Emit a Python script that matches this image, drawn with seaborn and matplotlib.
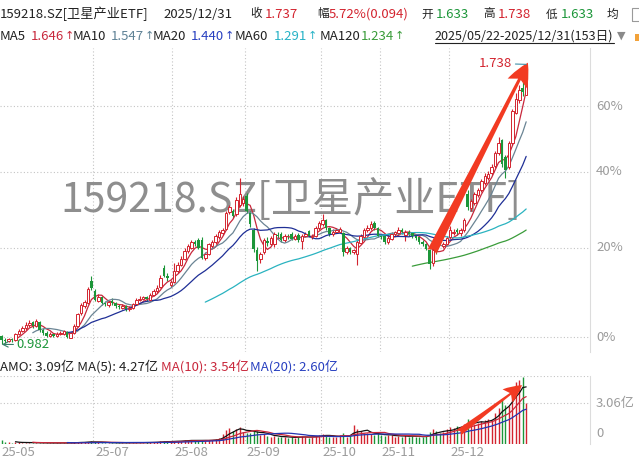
import matplotlib
matplotlib.use("Agg")
import numpy as np
import pandas as pd
import matplotlib.pyplot as plt
import matplotlib.transforms as mtransforms
from matplotlib.patches import Rectangle
from matplotlib.lines import Line2D
import seaborn as sns

# --- 数据: 2025/05/22-2025/12/31, 153个交易日 ---
opens = [
    1.000, 0.991, 0.988, 0.993, 0.990, 1.004, 1.010, 1.016, 1.022, 1.027,
    1.020, 1.028, 1.012, 1.006, 1.000, 1.004, 1.000, 1.004, 1.003, 1.008,
    0.996, 1.006, 1.020, 1.046, 1.062, 1.068, 1.118, 1.096, 1.074, 1.082,
    1.068, 1.064, 1.074, 1.068, 1.062, 1.058, 1.062, 1.055, 1.057, 1.066,
    1.075, 1.078, 1.081, 1.076, 1.086, 1.094, 1.103, 1.148, 1.130, 1.108,
    1.116, 1.140, 1.155, 1.170, 1.188, 1.196, 1.210, 1.214, 1.215, 1.172,
    1.182, 1.200, 1.210, 1.222, 1.232, 1.242, 1.286, 1.290, 1.280, 1.305,
    1.310, 1.330, 1.285, 1.240, 1.190, 1.168, 1.185, 1.212, 1.206, 1.204,
    1.228, 1.230, 1.214, 1.226, 1.230, 1.218, 1.228, 1.212, 1.226, 1.238,
    1.222, 1.226, 1.244, 1.255, 1.265, 1.245, 1.230, 1.236, 1.236, 1.232,
    1.186, 1.196, 1.186, 1.180, 1.208, 1.222, 1.240, 1.244, 1.258, 1.244,
    1.226, 1.224, 1.210, 1.218, 1.230, 1.232, 1.240, 1.228, 1.236, 1.232,
    1.224, 1.222, 1.210, 1.206, 1.190, 1.160, 1.190, 1.222, 1.200, 1.206,
    1.222, 1.232, 1.240, 1.232, 1.240, 1.335, 1.296, 1.310, 1.332, 1.345,
    1.365, 1.380, 1.392, 1.412, 1.452, 1.490, 1.440, 1.410, 1.480, 1.575,
    1.615, 1.655, 1.633,
]
highs = [
    1.002, 0.995, 0.996, 0.996, 1.006, 1.014, 1.020, 1.028, 1.032, 1.030,
    1.034, 1.030, 1.015, 1.009, 1.007, 1.006, 1.008, 1.009, 1.012, 1.010,
    1.008, 1.024, 1.048, 1.068, 1.076, 1.104, 1.128, 1.100, 1.088, 1.085,
    1.072, 1.074, 1.080, 1.071, 1.066, 1.067, 1.064, 1.062, 1.069, 1.079,
    1.083, 1.085, 1.084, 1.090, 1.099, 1.108, 1.131, 1.155, 1.136, 1.120,
    1.160, 1.162, 1.176, 1.195, 1.205, 1.216, 1.214, 1.220, 1.222, 1.186,
    1.208, 1.216, 1.230, 1.240, 1.246, 1.290, 1.305, 1.295, 1.325, 1.380,
    1.330, 1.336, 1.290, 1.245, 1.198, 1.186, 1.220, 1.222, 1.226, 1.236,
    1.234, 1.236, 1.230, 1.230, 1.234, 1.230, 1.232, 1.230, 1.236, 1.240,
    1.230, 1.250, 1.264, 1.282, 1.268, 1.248, 1.242, 1.246, 1.248, 1.236,
    1.200, 1.198, 1.194, 1.214, 1.230, 1.246, 1.252, 1.262, 1.262, 1.248,
    1.230, 1.228, 1.224, 1.234, 1.238, 1.248, 1.244, 1.240, 1.240, 1.236,
    1.228, 1.226, 1.214, 1.208, 1.194, 1.196, 1.198, 1.226, 1.210, 1.226,
    1.250, 1.242, 1.244, 1.246, 1.270, 1.345, 1.322, 1.340, 1.352, 1.376,
    1.392, 1.398, 1.420, 1.456, 1.500, 1.494, 1.446, 1.486, 1.588, 1.640,
    1.668, 1.680, 1.738,
]
lows = [
    0.982, 0.985, 0.986, 0.987, 0.989, 1.002, 1.008, 1.012, 1.018, 1.016,
    1.018, 1.008, 1.002, 0.998, 0.997, 0.997, 0.998, 1.001, 1.001, 0.994,
    0.995, 1.004, 1.018, 1.042, 1.058, 1.066, 1.098, 1.072, 1.070, 1.064,
    1.062, 1.060, 1.064, 1.058, 1.056, 1.056, 1.052, 1.052, 1.055, 1.064,
    1.072, 1.075, 1.074, 1.074, 1.083, 1.091, 1.101, 1.126, 1.118, 1.104,
    1.112, 1.136, 1.152, 1.166, 1.184, 1.192, 1.200, 1.192, 1.168, 1.166,
    1.178, 1.196, 1.206, 1.218, 1.228, 1.240, 1.280, 1.270, 1.276, 1.300,
    1.302, 1.285, 1.248, 1.186, 1.140, 1.160, 1.182, 1.200, 1.202, 1.198,
    1.218, 1.210, 1.210, 1.218, 1.214, 1.214, 1.210, 1.192, 1.222, 1.222,
    1.218, 1.222, 1.240, 1.250, 1.240, 1.226, 1.226, 1.232, 1.232, 1.176,
    1.180, 1.180, 1.182, 1.155, 1.204, 1.218, 1.236, 1.240, 1.240, 1.222,
    1.218, 1.206, 1.206, 1.214, 1.226, 1.228, 1.230, 1.212, 1.226, 1.220,
    1.216, 1.206, 1.200, 1.190, 1.146, 1.152, 1.180, 1.204, 1.196, 1.202,
    1.218, 1.228, 1.228, 1.226, 1.236, 1.292, 1.290, 1.306, 1.326, 1.340,
    1.360, 1.372, 1.386, 1.408, 1.446, 1.410, 1.378, 1.404, 1.476, 1.570,
    1.605, 1.630, 1.633,
]
closes = [
    0.990, 0.988, 0.992, 0.990, 1.004, 1.010, 1.015, 1.022, 1.026, 1.020,
    1.030, 1.012, 1.006, 1.000, 1.003, 1.000, 1.004, 1.005, 1.009, 0.998,
    1.006, 1.020, 1.045, 1.064, 1.070, 1.100, 1.102, 1.076, 1.082, 1.068,
    1.066, 1.070, 1.068, 1.062, 1.060, 1.063, 1.055, 1.058, 1.066, 1.075,
    1.078, 1.081, 1.077, 1.086, 1.095, 1.102, 1.125, 1.130, 1.124, 1.116,
    1.140, 1.155, 1.170, 1.188, 1.200, 1.210, 1.205, 1.196, 1.172, 1.180,
    1.204, 1.210, 1.224, 1.234, 1.240, 1.285, 1.300, 1.276, 1.318, 1.335,
    1.322, 1.290, 1.255, 1.192, 1.165, 1.180, 1.214, 1.208, 1.220, 1.230,
    1.224, 1.214, 1.226, 1.224, 1.218, 1.225, 1.214, 1.226, 1.230, 1.226,
    1.226, 1.245, 1.258, 1.265, 1.245, 1.230, 1.236, 1.240, 1.242, 1.186,
    1.195, 1.185, 1.190, 1.210, 1.225, 1.240, 1.246, 1.255, 1.244, 1.226,
    1.222, 1.210, 1.220, 1.230, 1.234, 1.240, 1.234, 1.236, 1.230, 1.224,
    1.220, 1.210, 1.205, 1.194, 1.156, 1.190, 1.186, 1.208, 1.205, 1.220,
    1.240, 1.236, 1.234, 1.240, 1.265, 1.300, 1.315, 1.335, 1.345, 1.370,
    1.385, 1.390, 1.410, 1.450, 1.480, 1.420, 1.400, 1.480, 1.580, 1.620,
    1.650, 1.643, 1.737,
]
# 成交额(亿)
amounts = [
    0.30, 0.18, 0.12, 0.10, 0.15, 0.12, 0.10, 0.09, 0.10, 0.08,
    0.09, 0.10, 0.08, 0.07, 0.08, 0.07, 0.08, 0.07, 0.08, 0.09,
    0.08, 0.12, 0.15, 0.14, 0.12, 0.18, 0.20, 0.15, 0.12, 0.10,
    0.09, 0.10, 0.09, 0.08, 0.08, 0.09, 0.08, 0.09, 0.10, 0.11,
    0.10, 0.10, 0.12, 0.12, 0.15, 0.14, 0.20, 0.22, 0.18, 0.16,
    0.22, 0.24, 0.25, 0.28, 0.26, 0.30, 0.25, 0.24, 0.30, 0.26,
    0.28, 0.30, 0.34, 0.45, 0.75, 1.05, 1.20, 0.95, 1.15, 1.30,
    0.90, 0.80, 0.85, 0.95, 1.00, 0.70, 0.75, 0.60, 0.55, 0.60,
    0.55, 0.50, 0.55, 0.45, 0.50, 0.48, 0.55, 0.60, 0.50, 0.45,
    0.55, 0.60, 0.70, 0.75, 0.60, 0.55, 0.50, 0.55, 0.65, 0.80,
    0.55, 0.60, 1.45, 1.10, 0.95, 0.85, 0.80, 0.75, 0.70, 0.80,
    0.65, 0.60, 0.70, 0.65, 0.55, 0.60, 0.50, 0.70, 0.55, 0.60,
    0.55, 0.50, 0.55, 0.60, 0.90, 1.10, 0.95, 0.85, 0.90, 1.10,
    1.25, 1.20, 1.35, 1.30, 1.50, 1.90, 1.60, 1.50, 1.60, 1.70,
    1.80, 1.90, 1.80, 2.30, 2.70, 3.30, 2.90, 2.85, 3.90, 4.60,
    4.76, 5.00, 3.09,
]

month_labels = ["25-05", "25-07", "25-08", "25-09", "25-10", "25-11", "25-12"]
month_first_day = [0, 27, 50, 71, 93, 110, 130]
pct_levels = [0, 20, 40, 60]
base_price = 0.997      # 0% 对应的价格
amo_grid = 3.06

# --- 样式 ---
W, H = 639, 466
RED = "#d3242f"
GREEN = "#1c9639"
TXT = "#222222"
GRAY = "#9c9c9c"
GRID = "#c4c4c4"
ARROW_RED = "#f23a22"

sns.set_theme(style="white")
plt.rcParams["font.family"] = ["Noto Sans CJK SC", "DejaVu Sans"]
plt.rcParams["axes.unicode_minus"] = False


def fx(px):
    return px / W


def fy(py):
    return 1 - py / H


df = pd.DataFrame({"day": np.arange(len(closes)), "open": opens, "high": highs,
                   "low": lows, "close": closes, "amo": amounts})
up = (df["close"] >= df["open"]).values

fig = plt.figure(figsize=(W / 100, H / 100), dpi=100)
ax = fig.add_axes([0, fy(352), fx(590), (352 - 48) / H])
axv = fig.add_axes([0, fy(444), fx(590), (444 - 376) / H])

# --- K线 ---
ax.set_yscale("log")
ax.vlines(df["day"], df["low"], df["high"], colors=np.where(up, RED, GREEN), lw=0.8, zorder=2)
body_bot = np.minimum(df["open"], df["close"])
body_h = np.maximum((df["close"] - df["open"]).abs(), 0.0015)
ax.bar(df["day"][up], body_h[up], bottom=body_bot[up], width=0.72,
       facecolor="white", edgecolor=RED, lw=0.7, zorder=3)
ax.bar(df["day"][~up], body_h[~up], bottom=body_bot[~up], width=0.72,
       color=GREEN, lw=0, zorder=3)

ma_specs = [(5, "#c8283c"), (10, "#6a8494"), (20, "#1f2f96"), (60, "#2ab3c0"), (120, "#3a9c3a")]
for n, c in ma_specs:
    df[f"ma{n}"] = df["close"].rolling(n).mean()
    sns.lineplot(data=df, x="day", y=f"ma{n}", ax=ax, color=c, lw=0.9, zorder=2.5)

# --- 成交额 ---
axv.vlines(df["day"], 0, df["amo"], colors=np.where(up, RED, GREEN), lw=1.0, zorder=2)
for n, c in [(5, "#111111"), (10, "#c8283c"), (20, "#2433b0")]:
    df[f"amo_ma{n}"] = df["amo"].rolling(n).mean()
    sns.lineplot(data=df, x="day", y=f"amo_ma{n}", ax=axv, color=c, lw=0.9, zorder=3)

for a in (ax, axv):
    a.set_xlim(-0.49, 170.5)
    a.set_xlabel("")
    a.set_ylabel("")
    a.set_xticks([])
    a.set_yticks([])
    a.minorticks_off()
    for s in ("top", "left", "bottom"):
        a.spines[s].set_visible(False)
    a.spines["right"].set_color("#dcdcdc")
    a.spines["right"].set_linewidth(0.8)
    for d in month_first_day[1:]:
        a.axvline(d - 0.5, color=GRID, lw=0.8, ls=(0, (1, 2)), zorder=0.5)
ax.set_ylim(0.967, 1.797)
axv.set_ylim(0, 5.085)
ax.yaxis.set_minor_locator(matplotlib.ticker.NullLocator())

# 右侧刻度
tr = mtransforms.blended_transform_factory(ax.transAxes, ax.transData)
for p in pct_levels:
    lvl = base_price * (1 + p / 100)
    ax.axhline(lvl, color=GRID, lw=0.8, ls=(0, (1, 2)), zorder=0.5)
    ax.text(596 / 590, lvl, f"{p}%", transform=tr, ha="left", va="center",
            color=GRAY, fontsize=9.5)

trv = mtransforms.blended_transform_factory(axv.transAxes, axv.transData)
axv.axhline(amo_grid, color=GRID, lw=0.8, ls=(0, (1, 2)), zorder=0.5)
axv.axhline(5.085, color=GRID, lw=0.8, ls=(0, (1, 2)), zorder=0.5)
axv.text(596 / 590, amo_grid, f"{amo_grid:.2f}亿", transform=trv, ha="left", va="center",
         color=GRAY, fontsize=9.5)
axv.text(596 / 590, 0.82, "0", transform=trv, ha="left", va="center", color=GRAY, fontsize=9.5)

# 月份标签
trx = mtransforms.blended_transform_factory(axv.transData, axv.transAxes)
for lab, d in zip(month_labels, month_first_day):
    axv.text(d - 0.5 + 0.58, -8 / 68, lab, transform=trx, ha="left", va="center",
             color=GRAY, fontsize=9.5)

# 水印
ax.text(fx(291), fy(200), "159218.SZ[卫星产业ETF]", transform=fig.transFigure,
        ha="center", va="center", fontsize=29.6, color="#8e8e8e", zorder=1)

# 最高/最低标注
ax.annotate("1.738", xy=(152, 1.738), xytext=(-14, 1), textcoords="offset pixels",
            ha="right", va="center", color=RED, fontsize=9.5, zorder=7,
            arrowprops=dict(arrowstyle="-", color="#3f8fa8", lw=0.8, shrinkA=0, shrinkB=0))
ax.annotate("0.982", xy=(0, 0.982), xytext=(15, 0), textcoords="offset pixels",
            ha="left", va="center", color=GREEN, fontsize=9.5, zorder=7,
            arrowprops=dict(arrowstyle="->", color="#3a7f6a", lw=0.8, shrinkA=0, shrinkB=0))

# 红色箭头
ax.annotate("", xy=(152.5, 1.744), xytext=(124.7, 1.186), zorder=6,
            arrowprops=dict(arrowstyle="fancy,head_length=1.4,head_width=1.3,tail_width=0.6",
                            fc=ARROW_RED, ec="none", mutation_scale=12, shrinkA=0, shrinkB=0))
axv.annotate("", xy=(150.8, 4.4), xytext=(132.5, 0.85), zorder=6,
             arrowprops=dict(arrowstyle="fancy,head_length=1.3,head_width=1.2,tail_width=0.5",
                             fc=ARROW_RED, ec="none", mutation_scale=10, shrinkA=0, shrinkB=0))

# --- 顶部信息栏 ---
FS = 9.5
CJK_FS = 8.4
renderer = fig.canvas.get_renderer()


def put(x, y, s, c, size=FS, **kw):
    return fig.text(fx(x), fy(y), s, ha="left", va="center", fontsize=size, color=c, **kw)


def right_px(t):
    return t.get_window_extent(renderer).x1


row1 = [(0, "159218.SZ[卫星产业ETF]", TXT, FS), (163, "2025/12/31", TXT, FS),
        (250, "收", TXT, CJK_FS), (265, "1.737", RED, FS),
        (317, "幅", TXT, CJK_FS), (329, "5.72%(0.094)", RED, FS),
        (421, "开", TXT, CJK_FS), (436, "1.633", GREEN, FS),
        (483, "高", TXT, CJK_FS), (498, "1.738", RED, FS),
        (546, "低", TXT, CJK_FS), (561, "1.633", GREEN, FS),
        (607, "均", TXT, CJK_FS)]
for x, s, c, size in row1:
    put(x, 14, s, c, size)

row2 = [(0, "MA5", "1.646", 31, "#c8283c"),
        (73, "MA10", "1.547", 111, "#5f8296"),
        (153, "MA20", "1.440", 191, "#2840c0"),
        (235, "MA60", "1.291", 274, "#26b2c6"),
        (320, "MA120", "1.234", 361, "#3a9c3a")]
for x, name, val, xv, c in row2:
    put(x, 36, name, TXT)
    t = put(xv, 36, val, c)
    put(right_px(t) + 0.5, 36, "↑", c, size=8.0, family=["DejaVu Sans"])

tdate = put(435, 36, "2025/05/22-2025/12/31(153日)", TXT, size=9.1)
x1 = right_px(tdate)
fig.add_artist(Line2D([fx(435), fx(x1)], [fy(43), fy(43)], color=TXT, lw=0.8))
put(x1 + 3, 36, "▼", "#8a8a8a", size=8.0, family=["DejaVu Sans"])
fig.add_artist(Rectangle((fx(632), fy(21)), 12 / W, 13 / H, transform=fig.transFigure,
                         fill=False, ec="#9a9a9a", lw=0.8))
fig.add_artist(Rectangle((fx(635), fy(41)), 6 / W, 7 / H, transform=fig.transFigure,
                         fc="#f2a23a", ec="none"))

row3 = [(0, "AMO: 3.09亿 MA(5): 4.27亿", TXT), (161, "MA(10): 3.54亿", "#c8283c"),
        (250, "MA(20): 2.60亿", "#2840c0")]
for x, s, c in row3:
    put(x, 367, s, c)

fig.savefig("out.png", dpi=100)
